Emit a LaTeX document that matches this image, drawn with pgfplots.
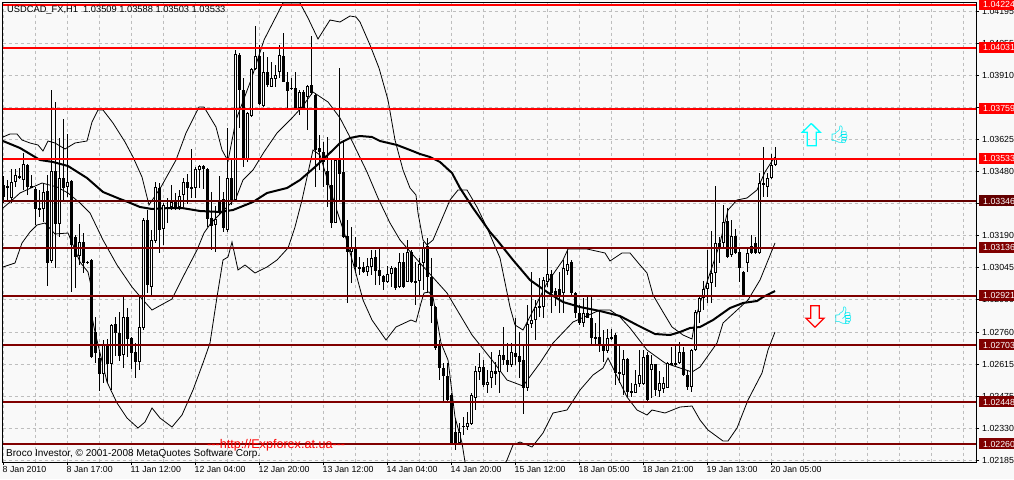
\documentclass[border=0pt]{standalone}
\usepackage{fontspec}
\setmainfont{Liberation Sans}
\newfontfamily\emojifont{Noto Emoji}
\usepackage{pgfplots}
\usepackage{pgfplotstable}
\pgfplotsset{compat=1.18}
\definecolor{chartbg}{HTML}{F9F9F9}
\definecolor{gridc}{HTML}{BEBEBE}
\definecolor{lvlred}{HTML}{FF0000}
\definecolor{lvlmar}{HTML}{800000}
\definecolor{lvldark}{HTML}{640000}
\definecolor{thumb}{HTML}{00E8F0}
\definecolor{arrowup}{HTML}{00FFFF}

% bars: x position, high, low, body top, body bottom, k=1 white body (rows of the picture)
\pgfplotstableread{
x h l t b k
3.5 176 203 185 197 0
7.5 180 200 186 188 0
11.5 169 203 182 198 1
15.5 169 187 175 182 1
19.5 168 179 176 178 0
23.5 153 190 164 180 1
27.5 164 195 165 187 0
31.5 175 188 186 188 0
35.5 187 225 189 209 0
39.5 190 217 208 210 0
43.5 183 222 192 209 1
47.5 175 286 191 263 0
51.5 90 263 171 261 1
55.5 102 268 171 224 0
59.5 138 237 178 224 1
63.5 119 201 178 188 0
67.5 134 197 182 187 1
71.5 180 292 181 245 0
75.5 235 288 237 257 0
79.5 224 265 242 256 1
83.5 233 273 242 263 0
87.5 261 264 262 263 0
91.5 259 358 260 357 0
95.5 317 363 332 353 0
99.5 352 391 358 374 0
103.5 340 383 345 374 1
107.5 339 383 346 364 0
111.5 324 390 325 364 1
115.5 317 356 324 333 0
119.5 312 361 333 356 0
123.5 297 368 317 355 1
127.5 308 357 317 339 0
131.5 337 369 338 353 0
135.5 343 378 352 362 0
139.5 295 370 327 362 1
143.5 218 330 220 328 1
147.5 210 293 220 285 0
151.5 230 295 240 287 1
155.5 182 243 187 241 1
159.5 183 253 188 230 0
163.5 203 245 205 229 1
167.5 198 223 207 209 0
171.5 185 210 202 207 1
175.5 193 210 202 207 0
179.5 190 210 196 207 1
183.5 178 207 182 195 1
187.5 174 204 182 188 0
191.5 149 198 187 189 0
195.5 167 198 169 188 1
199.5 165 188 166 170 1
203.5 165 189 166 169 0
207.5 168 227 169 219 0
211.5 192 250 218 226 0
215.5 206 252 219 225 1
219.5 176 214 201 212 0
223.5 192 232 199 228 0
227.5 128 232 178 230 1
231.5 158 205 178 200 0
235.5 50 202 54 200 1
239.5 53 128 55 90 0
243.5 78 167 90 160 0
247.5 112 162 113 160 1
251.5 68 117 69 116 1
255.5 26 70 56 69 1
259.5 45 105 56 104 0
263.5 52 107 72 106 1
267.5 57 87 72 85 0
271.5 62 87 78 87 1
275.5 65 87 75 79 1
279.5 45 78 55 72 1
283.5 33 82 56 82 0
287.5 72 108 82 91 0
291.5 78 90 88 89 0
295.5 72 110 88 108 0
299.5 90 115 92 108 1
303.5 90 110 92 108 0
307.5 85 130 86 97 1
311.5 36 95 85 93 0
315.5 93 187 95 150 0
319.5 135 170 148 152 0
323.5 142 187 152 162 0
327.5 137 207 171 185 0
331.5 158 228 185 223 0
335.5 158 223 160 223 1
339.5 68 200 160 174 0
343.5 140 238 172 237 0
347.5 220 303 236 252 0
351.5 227 283 248 252 1
355.5 237 273 248 267 0
359.5 257 275 267 269 0
363.5 262 273 267 272 0
367.5 258 276 266 272 1
371.5 250 275 258 267 1
375.5 250 285 257 271 0
379.5 248 285 270 276 0
383.5 275 290 276 282 0
387.5 266 283 274 282 1
391.5 266 287 268 274 1
395.5 267 290 268 288 0
399.5 253 288 262 287 1
403.5 253 288 262 287 0
407.5 240 282 252 282 1
411.5 250 283 252 282 0
415.5 262 305 281 283 0
419.5 258 297 264 281 1
423.5 242 290 248 263 1
427.5 238 293 246 277 0
431.5 258 323 277 306 0
435.5 306 350 307 348 0
439.5 340 380 345 368 0
443.5 363 402 368 376 0
447.5 363 402 376 400 0
451.5 393 443 395 443 0
455.5 418 450 432 443 0
459.5 423 443 432 443 1
463.5 417 435 426 427 0
467.5 412 430 423 427 1
471.5 393 425 395 424 1
475.5 366 410 371 398 1
479.5 353 380 367 372 1
483.5 360 387 367 385 0
487.5 370 393 382 385 1
491.5 352 388 371 378 1
495.5 362 385 371 374 0
499.5 350 393 355 372 1
503.5 327 365 355 360 0
507.5 343 372 360 365 0
511.5 343 367 352 365 1
515.5 318 365 353 357 0
519.5 332 378 356 362 0
523.5 345 414 360 388 0
527.5 305 391 324 388 1
531.5 272 328 320 324 1
535.5 300 340 307 320 1
539.5 278 317 306 308 0
543.5 277 318 280 307 1
547.5 248 287 274 282 1
551.5 270 313 274 293 0
555.5 288 306 291 295 0
559.5 272 313 289 295 0
563.5 260 313 268 293 1
567.5 250 275 264 271 1
571.5 260 295 262 293 0
575.5 292 318 293 313 0
579.5 305 325 313 323 0
583.5 298 327 313 323 1
587.5 297 318 313 318 0
591.5 297 345 318 338 0
595.5 323 345 337 339 0
599.5 312 352 337 345 0
603.5 330 362 345 351 0
607.5 329 353 338 351 1
611.5 329 340 337 339 0
615.5 333 385 335 373 0
619.5 345 383 372 374 0
623.5 350 395 359 375 1
627.5 358 397 359 392 0
631.5 383 397 391 393 0
635.5 370 393 384 393 1
639.5 350 387 375 384 1
643.5 350 385 357 384 1
647.5 352 401 355 400 0
651.5 355 398 364 370 1
655.5 364 396 364 390 0
659.5 371 397 383 391 1
663.5 377 393 383 389 1
667.5 362 388 363 388 1
671.5 347 364 363 365 0
675.5 346 367 363 365 0
679.5 342 364 352 363 1
683.5 347 376 352 375 0
687.5 370 390 375 387 0
691.5 349 392 350 387 1
695.5 310 351 312 350 1
699.5 296 323 298 312 1
703.5 281 310 289 298 1
707.5 250 303 283 289 1
711.5 231 303 273 283 1
715.5 186 287 243 273 1
719.5 237 263 243 247 0
723.5 205 247 222 243 1
727.5 208 258 221 257 0
731.5 220 257 236 255 1
735.5 229 254 236 253 0
739.5 247 282 252 268 0
743.5 271 296 272 295 0
747.5 247 272 253 263 1
751.5 235 254 246 253 0
755.5 237 254 243 253 0
759.5 173 254 183 253 1
763.5 147 197 183 185 0
767.5 173 197 178 187 1
771.5 154 179 165 178 1
775.5 147 166 159 165 1
}\candles

\begin{document}
\begin{tikzpicture}[x=1pt,y=1pt,font=\fontsize{8.8}{10}\selectfont]
\useasboundingbox (0,0) rectangle (1014,479);
\fill[chartbg] (0,0) rectangle (1014,479);
\begin{axis}[
    at={(2.5pt,17pt)}, anchor=south west,
    width=973.5pt, height=459.5pt, scale only axis,
    xmin=2.5, xmax=976, ymin=2.5, ymax=462,
    y dir=reverse,
    axis background/.style={fill=chartbg},
    axis line style={black,line width=1pt},
    xtick pos=lower, ytick pos=upper,
    yticklabel pos=upper,
    tick align=outside,
    major tick length=3pt, minor tick length=0pt,
    tick style={black,line width=1pt},
    xtick={3.5,67.5,131.5,195.5,259.5,323.5,387.5,451.5,515.5,579.5,643.5,707.5,771.5},
    xticklabels={8 Jan 2010,8 Jan 17:00,11 Jan 12:00,12 Jan 04:00,12 Jan 20:00,13 Jan 12:00,14 Jan 04:00,14 Jan 20:00,15 Jan 12:00,18 Jan 05:00,18 Jan 21:00,19 Jan 13:00,20 Jan 05:00},
    minor xtick={35.5,99.5,163.5,227.5,291.5,355.5,419.5,483.5,547.5,611.5,675.5,739.5,803.5,835.5,867.5,899.5,931.5,963.5},
    ytick={11.5,43.5,75.5,107.5,139.5,171.5,203.5,235.5,267.5,299.5,332,364,396,428,460},
    yticklabels={1.04195,1.04055,1.03910,1.03770,1.03625,1.03480,1.03335,1.03190,1.03045,1.02900,1.02760,1.02615,1.02475,1.02330,1.02185},
    xticklabel style={anchor=north west,inner sep=0pt,xshift=-1pt,yshift=-1pt},
    yticklabel style={anchor=west,inner sep=0pt,xshift=3pt},
    grid=both,
    major grid style={gridc,line width=1pt,dash pattern=on 3pt off 3pt},
    minor grid style={gridc,line width=1pt,dash pattern=on 3pt off 3pt},
]
% bands
\addplot[black,line width=0.8pt,no marks] coordinates {
(3,137)(10,134)(17,134)(22,140)(30,143)(38,145)(43,151)(48,141)(55,143)(65,149)(75,143)(87,141)(92,122)(98,110)(103,110)(113,123)(125,142)(133,157)(142,177)(149,205)(161,187)(176,160)(186,133)(199,107)(204,107)(216,127)(222,150)(228,161)(236,120)(251,80)(264,40)(283,3)(300,3)(308,18)(318,39)(330,20)(340,22)(350,16)(356,17)(360,22)(370,45)(379,68)(388,100)(395,140)(403,170)(410,188)(416,195)(418,213)(423,240)(427,245)(433,240)(450,200)(458,190)(467,190)(477,207)(488,230)(500,258)(510,307)(515,325)(523,330)(535,307)(547,283)(563,260)(568,249)(587,249)(605,253)(610,261)(622,253)(630,253)(640,265)(647,273)(653,295)(663,312)(672,327)(683,335)(692,339)(695,320)(702,297)(720,243)(728,210)(737,200)(747,198)(757,190)(765,172)(772,161)(775,157)};
\addplot[black,line width=0.8pt,no marks] coordinates {
(3,208)(10,202)(20,193)(33,187)(42,183)(57,187)(68,193)(80,203)(90,213)(103,240)(117,265)(132,287)(143,300)(152,310)(172,299)(183,277)(197,250)(204,233)(211,223)(222,212)(236,198)(243,180)(253,170)(264,152)(277,133)(292,118)(302,107)(313,92)(328,102)(340,118)(353,143)(367,172)(378,198)(390,223)(400,240)(420,263)(447,293)(472,335)(492,360)(507,380)(523,386)(540,363)(553,343)(573,322)(600,310)(610,310)(620,317)(630,328)(647,350)(665,363)(680,368)(692,372)(700,367)(717,343)(723,323)(748,300)(760,280)(775,243)};
\addplot[black,line width=0.8pt,no marks] coordinates {
(3,267)(15,263)(22,243)(30,232)(37,225)(45,223)(55,234)(68,233)(80,262)(88,272)(92,290)(92,317)(95,332)(107,382)(117,403)(127,418)(138,428)(145,422)(152,408)(160,418)(172,427)(182,415)(193,390)(203,363)(210,343)(217,297)(223,260)(228,257)(232,242)(238,270)(245,265)(255,273)(267,267)(277,260)(288,248)(295,227)(302,200)(313,150)(320,155)(335,205)(345,235)(355,270)(363,300)(372,320)(386,340)(396,327)(411,320)(416,322)(421,303)(424,293)(429,292)(433,297)(441,343)(448,360)(455,417)(462,443)(465,462)(475,480)(495,480)(507,460)(513,445)(520,442)(532,447)(543,433)(553,413)(567,410)(580,390)(593,375)(603,368)(608,358)(613,368)(627,397)(637,410)(647,415)(652,410)(665,413)(680,407)(692,406)(700,420)(708,430)(723,441)(728,441)(737,428)(748,400)(762,373)(768,350)(775,332)};
% moving average
\addplot[black,line width=2pt,no marks,line join=round] coordinates {
(3,141)(20,148)(35,157)(40,160)(53,162)(68,166)(87,178)(103,192)(120,199)(128,202)(140,207)(152,209)(170,208)(182,208)(200,211)(220,212)(233,210)(253,202)(267,193)(287,188)(300,180)(315,167)(333,150)(340,143)(350,138)(360,136)(372,137)(380,141)(397,145)(410,150)(420,154)(430,157)(440,162)(452,173)(460,188)(473,208)(490,232)(497,240)(513,260)(530,280)(547,292)(563,302)(580,307)(600,311)(620,316)(637,325)(655,334)(670,335)(680,332)(690,328)(700,327)(713,320)(730,308)(743,303)(757,301)(763,297)(775,291)};
% wicks, bodies, white inside of rising bars
\addplot[draw=none,no marks,error bars/.cd,y dir=plus,y explicit,error mark=none,
    error bar style={draw=black,line width=1pt,solid}]
    table[x=x,y=h,y error plus expr=\thisrow{l}-\thisrow{h}] {\candles};
\addplot[draw=none,no marks,error bars/.cd,y dir=plus,y explicit,error mark=none,
    error bar style={draw=black,line width=3pt,solid}]
    table[x=x,y=t,y error plus expr=\thisrow{b}-\thisrow{t}] {\candles};
\addplot[draw=none,no marks,unbounded coords=discard,error bars/.cd,y dir=plus,y explicit,error mark=none,
    error bar style={draw=white,line width=1pt,solid}]
    table[x=x,y expr={\thisrow{k}>0 ? \thisrow{t}+1 : nan},y error plus expr=\thisrow{b}-\thisrow{t}-2] {\candles};
% price levels
\addplot[lvlred,line width=2pt] coordinates {(2.5,4.7)(976,4.7)};
\addplot[lvlred,line width=2pt] coordinates {(2.5,47.7)(976,47.7)};
\addplot[lvlred,line width=2pt] coordinates {(2.5,108.7)(976,108.7)};
\addplot[lvlred,line width=2pt] coordinates {(2.5,158.7)(976,158.7)};
\addplot[lvldark,line width=2pt] coordinates {(2.5,201)(976,201)};
\addplot[lvlmar,line width=2pt] coordinates {(2.5,247.7)(976,247.7)};
\addplot[lvlmar,line width=2pt] coordinates {(2.5,295.7)(976,295.7)};
\addplot[lvlmar,line width=2pt] coordinates {(2.5,345)(976,345)};
\addplot[lvlmar,line width=2pt] coordinates {(2.5,402)(976,402)};
\addplot[lvlmar,line width=2pt] coordinates {(2.5,444)(976,444)};
% arrows
\addplot[arrowup,line width=1.3pt] coordinates {(811.3,123.5)(820.3,132.3)(816.3,132.3)(816.3,145.7)(807.3,145.7)(807.3,132.3)(802.3,132.3)(811.3,123.5)};
\addplot[red,line width=1.3pt] coordinates {(815,327.3)(824,318.3)(819.3,318.3)(819.3,305.7)(810.7,305.7)(810.7,318.3)(806,318.3)(815,327.3)};
\end{axis}
% labels of the levels, over the tick labels
\foreach \r/\t/\c in {4.7/1.04224/lvlred,47.7/1.04031/lvlred,108.7/1.03759/lvlred,158.7/1.03533/lvlred,201/1.03346/lvldark,247.7/1.03136/lvlmar,295.7/1.02921/lvlmar,345/1.02703/lvlmar,402/1.02448/lvlmar,444/1.02260/lvlmar}{
  \fill[\c] (978.5,479-\r-5.5) rectangle (1014,479-\r+5.5);
  \node[anchor=west,inner sep=0pt,white] at (983,479-\r) {\t};
}
\node[anchor=west,inner sep=0pt,text=black,font=\fontsize{9.3}{10}\selectfont] at (7,468.5) {USDCAD\_FX,H1\ \ 1.03509 1.03588 1.03503 1.03533};
\node[anchor=west,inner sep=0pt,text=black,font=\fontsize{10}{11}\selectfont] at (6,25.5) {Broco Investor, © 2001-2008 MetaQuotes Software Corp.};
\node[anchor=west,inner sep=0pt,text=red,font=\fontsize{12.6}{14}\selectfont] at (207,34) {-{}-{}-http://Expforex.at.ua-{}-{}-};
\node[inner sep=0pt,text=thumb,font=\emojifont\fontsize{17}{18}\selectfont] at (839.7,344) {👍};
\node[inner sep=0pt,text=thumb,font=\emojifont\fontsize{17}{18}\selectfont] at (843.3,163) {👍};
\end{tikzpicture}
\end{document}
